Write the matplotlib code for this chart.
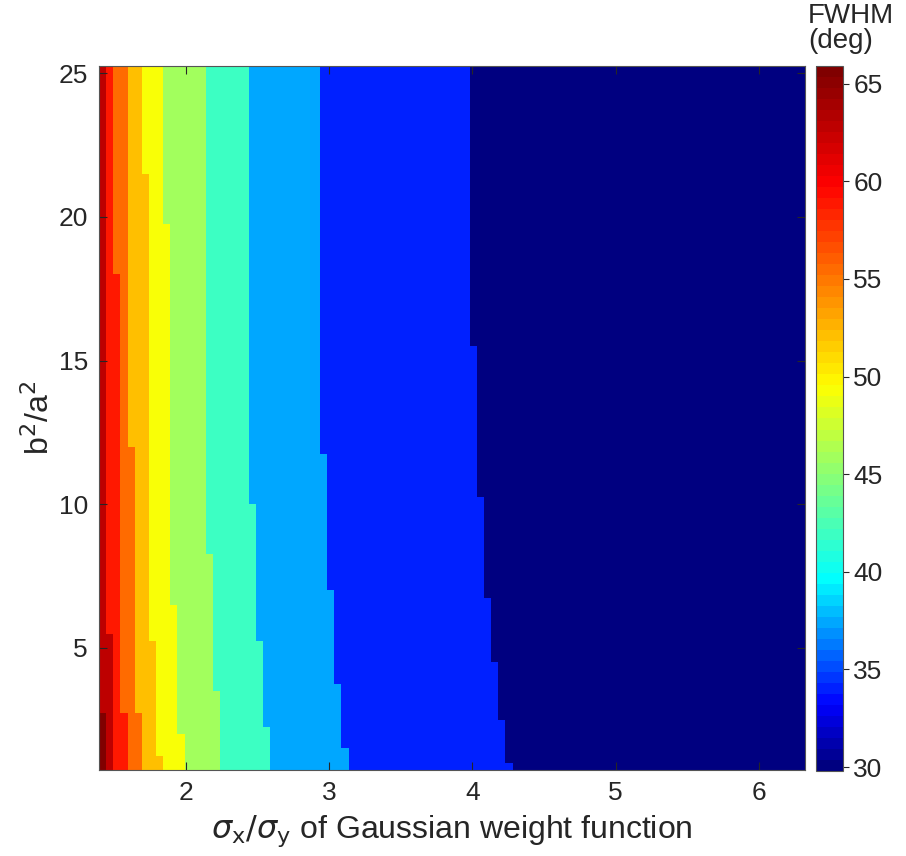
import numpy as np
import matplotlib.pyplot as plt
from matplotlib.colors import LinearSegmentedColormap

plt.rcParams['font.family'] = ['Liberation Sans', 'DejaVu Sans']

# FWHM levels (deg), index 0 = right-most band (navy) ... 10 = bottom-left corner
fwhm_levels = [29.8, 34.0, 37.3, 42.0, 45.8, 49.0, 52.1, 55.4, 59.0, 63.0, 65.9]

# band edges: sigma_x/sigma_y where FWHM drops one level.
# breaks are b^2/a^2 values (ascending), x lists go from bottom to top
b1_breaks = [2.73]
b1_x = [1.445, 1.300]
b2_breaks = [5.61]
b2_x = [1.495, 1.445]
b3_breaks = [2.73, 17.88]
b3_x = [1.594, 1.544, 1.495]
b4_breaks = [2.73, 12.03]
b4_x = [1.694, 1.644, 1.594]
b5_breaks = [1.25, 5.37, 21.52]
b5_x = [1.843, 1.793, 1.743, 1.694]
b6_breaks = [1.93, 6.48, 19.85]
b6_x = [1.992, 1.942, 1.893, 1.843]
b7_breaks = [3.42, 8.32]
b7_x = [2.241, 2.191, 2.142]
b8_breaks = [2.21, 5.16, 10.07]
b8_x = [2.589, 2.540, 2.490, 2.440]
b9_breaks = [1.51, 3.77, 6.97, 11.65]
b9_x = [3.160, 3.087, 3.037, 2.988, 2.938]
b10_breaks = [1.06, 2.52, 4.57, 6.76, 10.23, 15.51]
b10_x = [4.300, 4.232, 4.182, 4.132, 4.083, 4.033, 3.983]

band_edges = [(b1_breaks, b1_x), (b2_breaks, b2_x), (b3_breaks, b3_x),
              (b4_breaks, b4_x), (b5_breaks, b5_x), (b6_breaks, b6_x),
              (b7_breaks, b7_x), (b8_breaks, b8_x), (b9_breaks, b9_x),
              (b10_breaks, b10_x)]

# grid
x_edges = np.linspace(1.395, 6.322, 100)
y_edges = np.linspace(0.75, 25.25, 99)
xc = 0.5 * (x_edges[:-1] + x_edges[1:])
yc = 0.5 * (y_edges[:-1] + y_edges[1:])

count = np.zeros((len(yc), len(xc)), dtype=int)
for brk, xs in band_edges:
    bx = np.array(xs)[np.searchsorted(brk, yc)]
    count += (xc[None, :] < bx[:, None])
Z = np.array(fwhm_levels)[count]

# jet-like colormap, matched to the reference colorbar
vmin, vmax = 29.8, 65.9
anchors = [29.8, 33.0, 39.5, 49.5, 60.0, 65.9]
anchor_colors = [(0, 0, 0.5), (0, 0, 1), (0, 1, 1), (1, 1, 0), (1, 0, 0), (0.5, 0, 0)]
cmap = LinearSegmentedColormap.from_list(
    'jetlike', [((a - vmin) / (vmax - vmin), c) for a, c in zip(anchors, anchor_colors)], N=64)

fig = plt.figure(figsize=(9.06, 8.56), dpi=100)
ax = fig.add_axes([99 / 906, 86 / 856, 706 / 906, 704 / 856])
cax = fig.add_axes([816 / 906, 85 / 856, 27 / 906, 705 / 856])

mesh = ax.pcolormesh(x_edges, y_edges, Z, cmap=cmap, vmin=vmin, vmax=vmax, shading='flat')
ax.set_xlim(x_edges[0], x_edges[-1])
ax.set_ylim(y_edges[0], y_edges[-1])
ax.set_xticks([2, 3, 4, 5, 6])
ax.set_yticks([5, 10, 15, 20, 25])
ax.tick_params(direction='in', length=6, width=0.8, top=True, right=True,
               labelsize=19, colors='#262626', pad=8)
for s in ax.spines.values():
    s.set_color('#555555')
    s.set_linewidth(0.8)

ax.set_xlabel(r'$\sigma_{\rm x}/\sigma_{\rm y}$ of Gaussian weight function', fontsize=23,
              color='#262626', labelpad=6)
ax.set_ylabel(r'b$^2$/a$^2$', fontsize=23, color='#262626', labelpad=2)

cbar = fig.colorbar(mesh, cax=cax, ticks=[30, 35, 40, 45, 50, 55, 60, 65])
cbar.ax.tick_params(labelsize=19, direction='out', length=4, width=0.8, colors='#262626')
cbar.outline.set_edgecolor('#555555')
cbar.outline.set_linewidth(0.8)

fig.text(808 / 906, 1 - 3 / 856, 'FWHM\n(deg)', fontsize=20, color='#262626',
         ha='left', va='top', linespacing=0.95)

fig.savefig('out.png', dpi=100)
